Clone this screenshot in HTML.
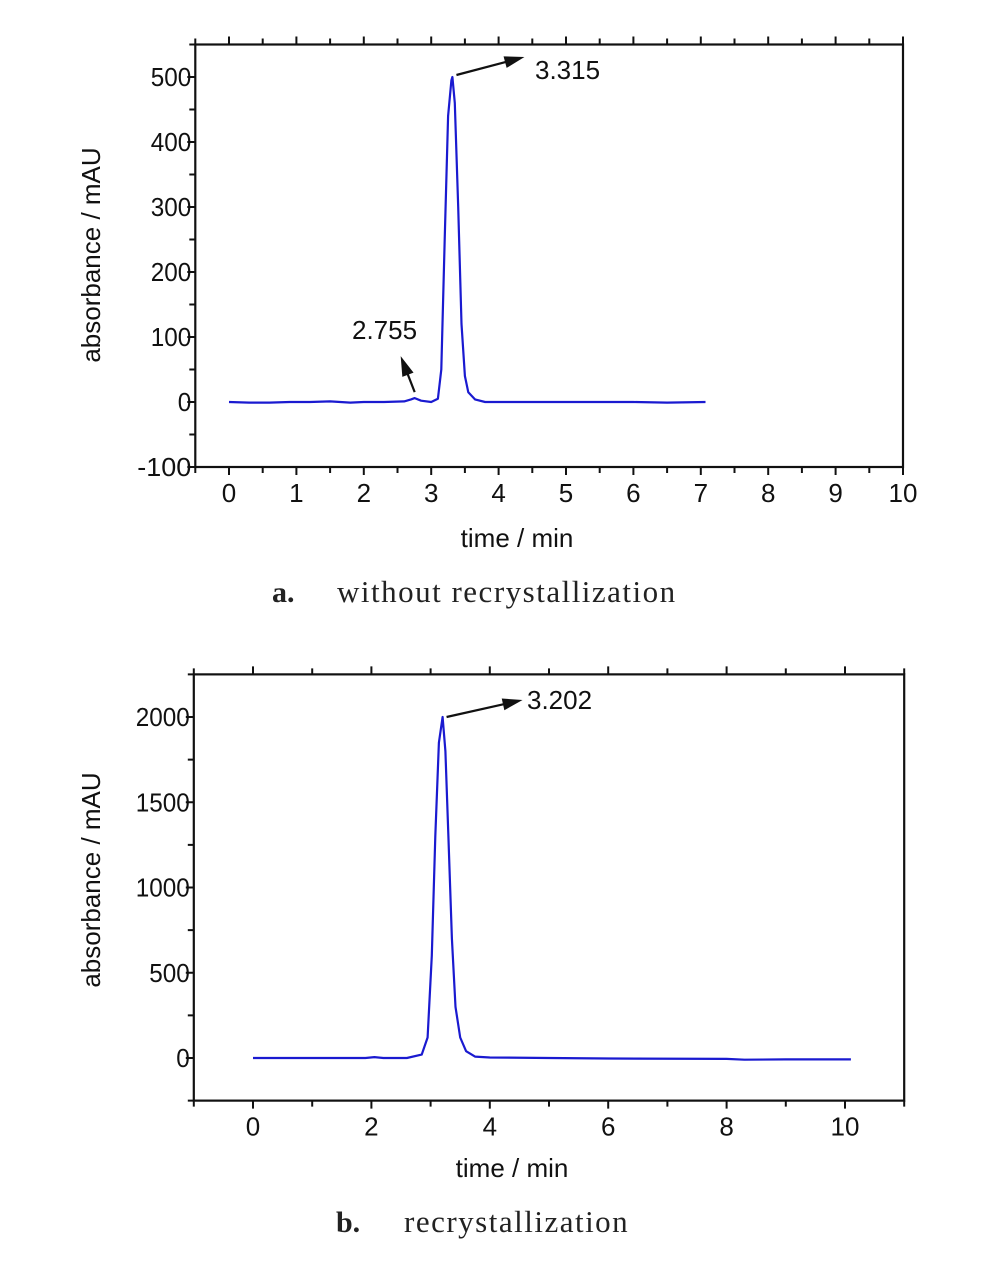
<!DOCTYPE html>
<html><head><meta charset="utf-8"><style>
body{margin:0;background:#fff}
svg text{font-family:"Liberation Sans",sans-serif;fill:#111}
.cap{font-family:"Liberation Serif",serif;fill:#222}
</style></head><body>
<svg id="fig" width="994" height="1261" viewBox="0 0 994 1261" xmlns="http://www.w3.org/2000/svg">
<text class="cap" x="272" y="602" font-size="30" font-weight="bold">a.</text>
<text class="cap" x="337" y="602" font-size="31" letter-spacing="1.5">without recrystallization</text>
<text class="cap" x="336" y="1232" font-size="30" font-weight="bold">b.</text>
<text class="cap" x="404" y="1232" font-size="31" letter-spacing="1.5">recrystallization</text>
</svg>
<script>
// Chart A data
const aTimes = [0,0.3,0.6,0.9,1.2,1.5,1.8,2.0,2.3,2.6,2.7,2.755,2.85,3.0,3.1,3.15,3.2,3.25,3.3,3.315,3.35,3.4,3.45,3.5,3.55,3.65,3.8,4.2,5,6,6.5,7.07];
const aValues = [0,-1,-1,0,0,1,-1,0,0,1,4,6,2,0,5,50,250,440,495,500,460,300,120,40,15,4,0,0,0,0,-1,0];
const aXTicks = [0,1,2,3,4,5,6,7,8,9,10];
const aYTicks = [-100,0,100,200,300,400,500];
// Chart B data
const bTimes = [0,1,1.9,2.05,2.2,2.6,2.85,2.95,3.02,3.08,3.14,3.202,3.25,3.3,3.36,3.42,3.5,3.6,3.75,4,5,6,8,8.3,9,10.1];
const bValues = [0,0,0,5,0,0,20,120,600,1300,1850,2000,1800,1300,700,300,120,40,8,3,0,-3,-5,-10,-8,-8];
const bXTicks = [0,2,4,6,8,10];
const bYTicks = [0,500,1000,1500,2000];

const NS="http://www.w3.org/2000/svg";
const svg=document.getElementById('fig');
function mk(tag,attrs,parent){const e=document.createElementNS(NS,tag);for(const k in attrs)e.setAttribute(k,attrs[k]);(parent||svg).appendChild(e);return e;}

function chart(o){
  const g=mk('g',{});
  
  
  const X=v=>o.x0px+(v-o.x0)*(o.x1px-o.x0px)/(o.x1-o.x0);
  const Y=v=>o.y0px+(v-o.y0)*(o.y1px-o.y0px)/(o.y1-o.y0);
  const L=X(o.xmin),R=X(o.xmax),T=Y(o.ymax),B=Y(o.ymin);
  const frame=mk('rect',{x:L,y:T,width:R-L,height:B-T,fill:'none',stroke:'#111','stroke-width':2.2},g);
  
  
  // x ticks (major + minor), bottom and top
  for(let v=o.xmin;v<=o.xmax+1e-9;v+=o.xminor){
    const vv=Math.round(v*1000)/1000;
    const major=o.xTicks.includes(vv);
    const len=major?8:6;
    mk('line',{x1:X(vv),x2:X(vv),y1:B,y2:B+len,stroke:'#111','stroke-width':2},g);
    mk('line',{x1:X(vv),x2:X(vv),y1:T,y2:T-len,stroke:'#111','stroke-width':2},g);
  }
  o.xTicks.forEach(v=>{
    const t=mk('text',{x:X(v),y:B+35,'font-size':26,'text-anchor':'middle'},g);
    t.textContent=v;
    
    
  });
  for(let v=o.ymin;v<=o.ymax+1e-9;v+=o.yminor){
    const major=o.yTicks.includes(v);
    mk('line',{x1:L,x2:L-(major?8:6),y1:Y(v),y2:Y(v),stroke:'#111','stroke-width':2},g);
  }
  o.yTicks.forEach(v=>{
    const t=mk('text',{x:L-4,y:Y(v)+9,'font-size':26,'text-anchor':'end',textLength:String(v).length*13.5,lengthAdjust:'spacingAndGlyphs'},g);
    t.textContent=v;
    
    
  });
  const xt=mk('text',{x:o.xtx,y:o.xty,'font-size':26,'text-anchor':'middle'},g);
  xt.textContent='time / min';
  
  
  const yt=mk('text',{x:0,y:0,'font-size':26,'text-anchor':'middle',transform:`translate(100,${o.yty}) rotate(-90)`},g);
  yt.textContent='absorbance / mAU';
  
  
  let d='';
  o.times.forEach((t,i)=>{d+=(i?'L':'M')+X(t).toFixed(1)+','+Y(o.values[i]).toFixed(1);});
  const p=mk('path',{d:d,fill:'none',stroke:'#1a1ad0','stroke-width':2.2,'stroke-linejoin':'round'},g);
  
  
  o.ann.forEach(a=>{
    const px=X(a.t),py=Y(a.v);
    const ax=px+a.dx,ay=py+a.dy;
    const ang=Math.atan2(ay-(py+a.sy),ax-(px+a.sx));
    mk('line',{x1:px+a.sx,y1:py+a.sy,x2:ax-14*Math.cos(ang),y2:ay-14*Math.sin(ang),stroke:'#111','stroke-width':2.2},g);
    const hx=ax,hy=ay,c=Math.cos(ang),s=Math.sin(ang);
    mk('polygon',{points:`${hx},${hy} ${hx-20*c+6*s},${hy-20*s-6*c} ${hx-20*c-6*s},${hy-20*s+6*c}`,fill:'#111'},g);
    const at=mk('text',{x:a.lx,y:a.ly,'font-size':26},g);
    at.textContent=a.label;
    
    
  });
}

chart({id:'chart-a',times:aTimes,values:aValues,xTicks:aXTicks,yTicks:aYTicks,
  x0:0,x1:10,x0px:229,x1px:903,y0:0,y1:500,y0px:402,y1px:77,
  xmin:-0.5,xmax:10,ymin:-100,ymax:550,xminor:0.5,yminor:50,
  xtx:517,xty:547,yty:255,
  ann:[{t:3.315,v:500,sx:4,sy:-2,dx:72,dy:-20,label:'3.315',lx:535,ly:79},
       {t:2.755,v:6,sx:0,sy:-6,dx:-14,dy:-42,label:'2.755',lx:352,ly:339}]});

chart({id:'chart-b',times:bTimes,values:bValues,xTicks:bXTicks,yTicks:bYTicks,
  x0:0,x1:10,x0px:253,x1px:845,y0:0,y1:2000,y0px:1058,y1px:717,
  xmin:-1,xmax:11,ymin:-250,ymax:2250,xminor:1,yminor:250,
  xtx:512,xty:1177,yty:880,
  ann:[{t:3.202,v:2000,sx:4,sy:0,dx:80,dy:-17,label:'3.202',lx:527,ly:709}]});
</script>
</body></html>
